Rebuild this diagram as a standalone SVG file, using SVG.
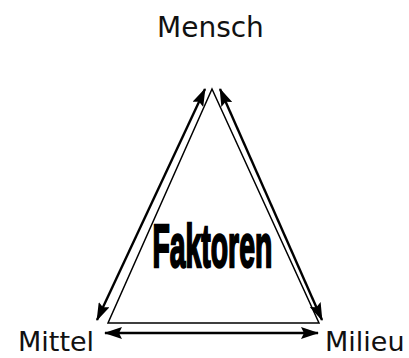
<svg xmlns="http://www.w3.org/2000/svg" width="409" height="358" viewBox="0 0 409 358">
<defs>
<marker id="ah" viewBox="0 0 18 12" refX="17" refY="6" markerWidth="18" markerHeight="12" markerUnits="userSpaceOnUse" orient="auto-start-reverse">
<path d="M0,0 L18,6 L0,12 L3,6 Z" fill="#000"/>
</marker>
</defs>
<style>
.lbl{font-family:"DejaVu Sans","Verdana",sans-serif;font-size:27px;fill:#111}
.edge{stroke:#000;stroke-width:1.5;fill:none}
.arr{stroke:#000;stroke-width:2.4;fill:none;marker-start:url(#ah);marker-end:url(#ah)}
.big{font-family:"Liberation Sans","Arial",sans-serif;font-weight:bold;font-size:61px;fill:#000;stroke:#000;stroke-width:2.4}
</style>
<rect width="409" height="358" fill="#fff"/>
<g id="connectors">
<polygon class="edge" points="212,89 108,323 319,323"/>
<line class="arr" x1="205" y1="89" x2="97" y2="320"/>
<line class="arr" x1="220" y1="89" x2="322" y2="320"/>
<line class="arr" x1="105" y1="333" x2="318" y2="333"/>
</g>
<g id="mensch"><text class="lbl" x="157" y="37" style="font-size:28px">Mensch</text></g>
<g id="mittel"><text class="lbl" x="18" y="351">Mittel</text></g>
<g id="milieu"><text class="lbl" x="325" y="351">Milieu</text></g>
<g id="faktoren"><text class="big" transform="translate(152.5,267) scale(0.465,1)">Faktoren</text></g>
</svg>
